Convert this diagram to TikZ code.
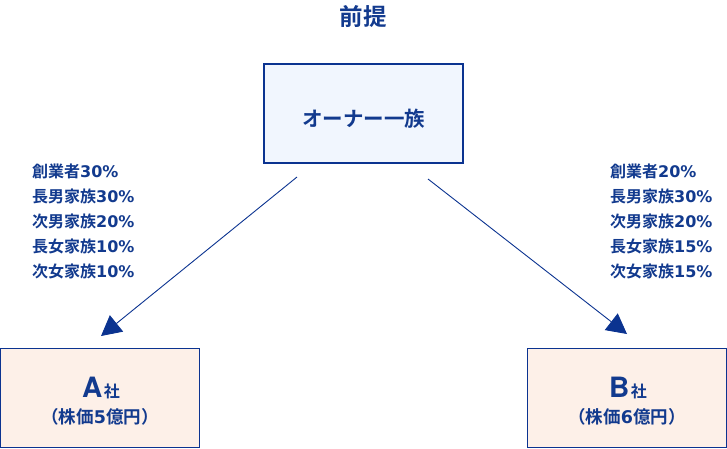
\documentclass[tikz,border=0pt]{standalone}
\usepackage{fontspec}
\setmainfont{Noto Sans CJK JP}[BoldFont={* Bold}]
\newfontfamily\latn{DejaVu Sans}[BoldFont={* Bold}]
\newfontfamily\heros{TeX Gyre Heros}[BoldFont={* Bold}]
\usetikzlibrary{arrows.meta}
\definecolor{navy}{HTML}{0B3390}
\definecolor{txt}{HTML}{123A8E}
\definecolor{topfill}{HTML}{F1F6FE}
\definecolor{botfill}{HTML}{FDF0E8}
\tikzset{
  box/.style={draw=navy, line width=1.6pt, minimum width=199pt, minimum height=99pt, inner sep=0pt},
  lbl/.style={text=txt, font=\bfseries\fontsize{16}{20}\selectfont, anchor=base west, inner sep=0pt},
  txtc/.style={text=txt, inner sep=0pt},
  conn/.style={draw=navy, line width=0.9pt, -{Triangle[length=20pt,width=21pt]}},
}
\newcommand{\pc}[1]{{\latn #1\%}}
\begin{document}
\begin{tikzpicture}[x=1pt,y=-1pt]
\useasboundingbox (0,0) rectangle (727,448);
\node[txtc, font=\bfseries\fontsize{23.5}{26}\selectfont] (title) at (363,16.5) {前提};
\node[box, fill=topfill] (owner) at (363.5,113.5) {};
\node[txtc, font=\bfseries\fontsize{20.5}{24}\selectfont] (ownert) at (363.5,118.5) {オーナー一族};
\node[box, fill=botfill] (a) at (100,398) {};
\node[box, fill=botfill] (b) at (627,398) {};
\node[txtc, anchor=base] (at) at (101,397) {{\heros\bfseries\fontsize{28}{30}\selectfont A}\,{\bfseries\fontsize{16}{20}\selectfont 社}};
\node[txtc, anchor=base] (bt) at (628,397) {{\heros\bfseries\fontsize{28}{30}\selectfont B}\,{\bfseries\fontsize{16}{20}\selectfont 社}};
\node[txtc, font=\bfseries\fontsize{17.5}{20}\selectfont] (ap) at (100,416.5) {（株価{\latn 5}億円）};
\node[txtc, font=\bfseries\fontsize{17.5}{20}\selectfont] (bp) at (627,416.5) {（株価{\latn 6}億円）};
\node[lbl] (la1) at (32,177) {創業者\pc{30}};
\node[lbl] (la2) at (32,202) {長男家族\pc{30}};
\node[lbl] (la3) at (32,227) {次男家族\pc{20}};
\node[lbl] (la4) at (32,252) {長女家族\pc{10}};
\node[lbl] (la5) at (32,277) {次女家族\pc{10}};
\node[lbl] (lb1) at (610,177) {創業者\pc{20}};
\node[lbl] (lb2) at (610,202) {長男家族\pc{30}};
\node[lbl] (lb3) at (610,227) {次男家族\pc{20}};
\node[lbl] (lb4) at (610,252) {長女家族\pc{15}};
\node[lbl] (lb5) at (610,277) {次女家族\pc{15}};
\coordinate (s1) at (297,177);
\coordinate (t1) at (101,336);
\coordinate (s2) at (428,179);
\coordinate (t2) at (627,334);
\draw[conn] (s1) -- (t1);
\draw[conn] (s2) -- (t2);
\end{tikzpicture}
\end{document}
